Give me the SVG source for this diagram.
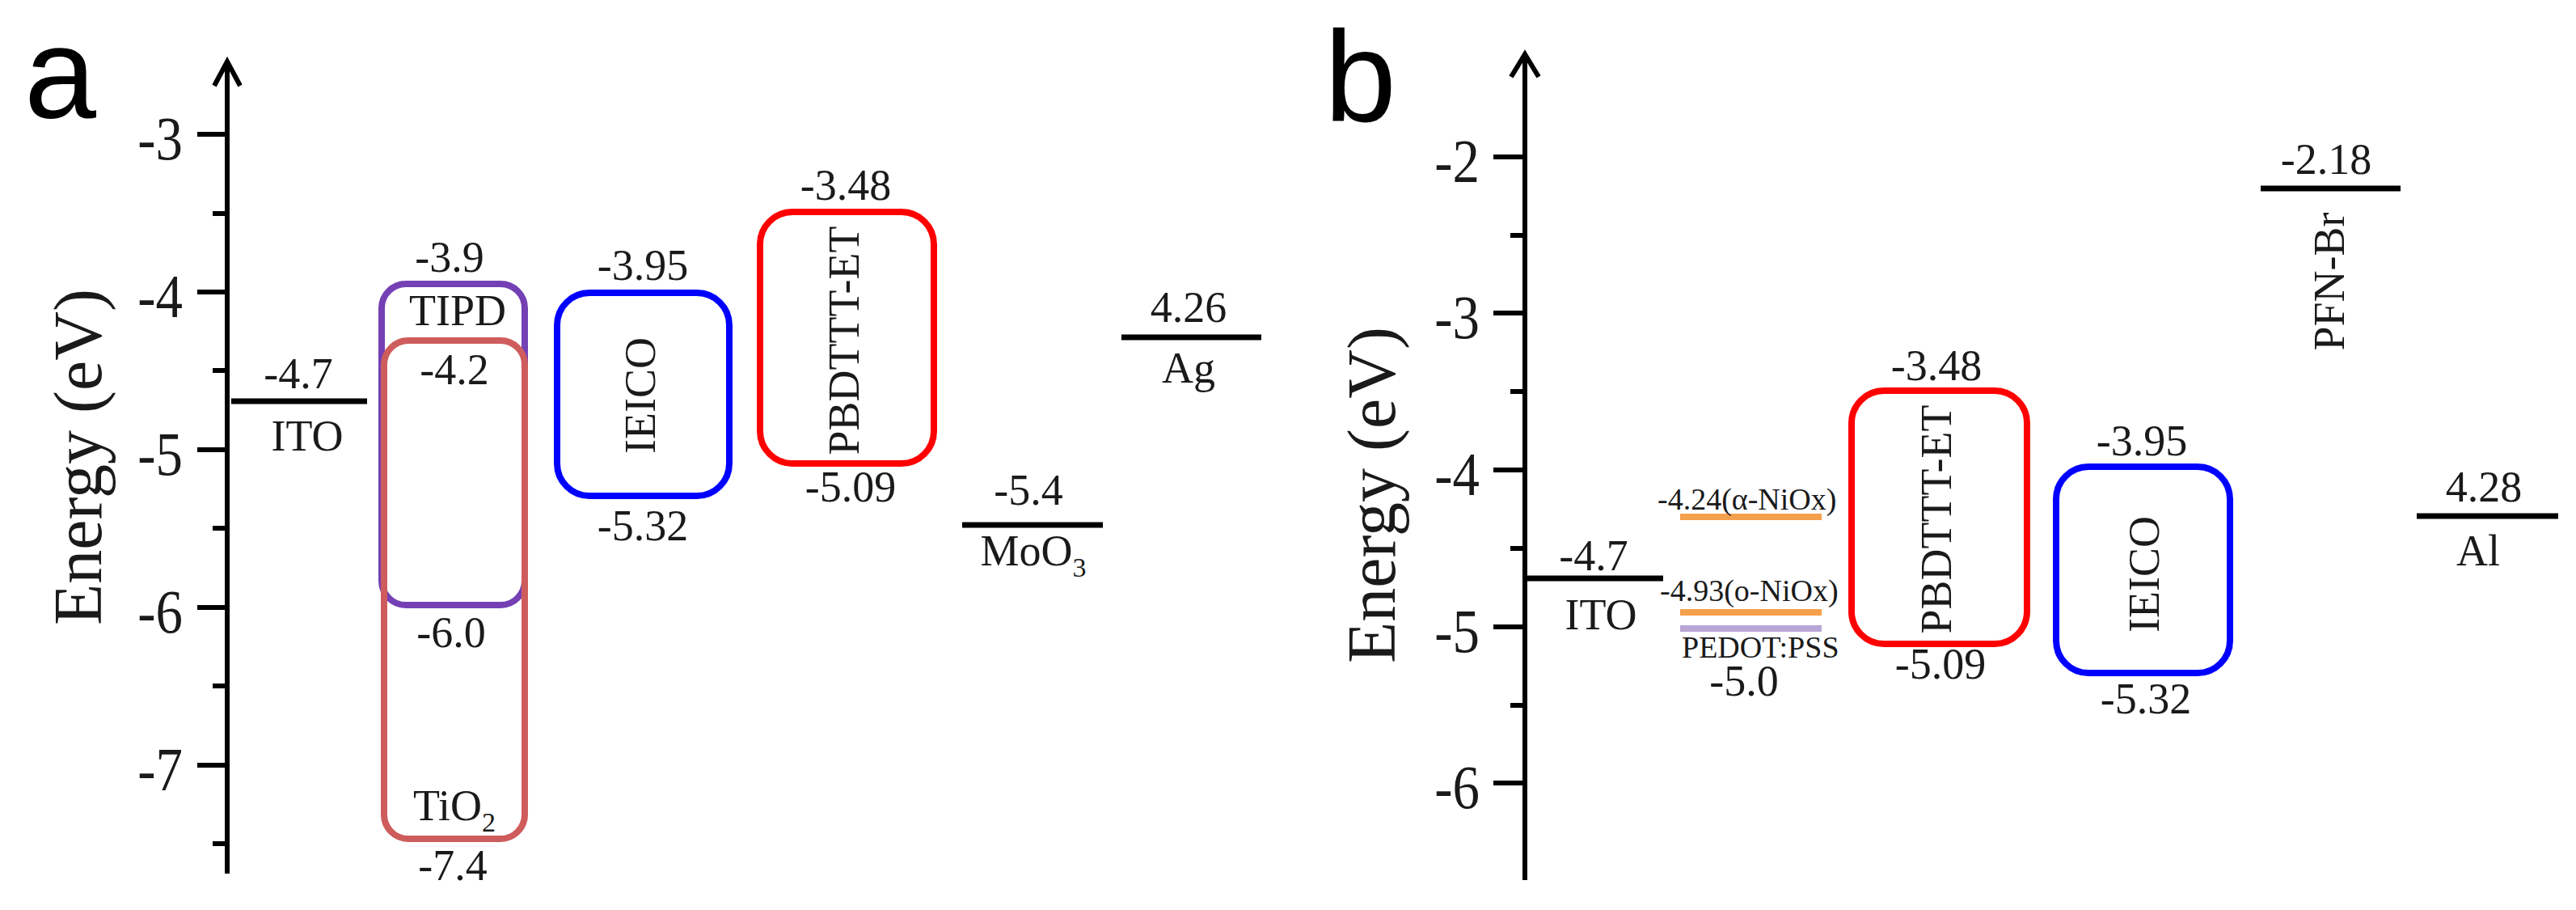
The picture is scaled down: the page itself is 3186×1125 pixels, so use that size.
<svg xmlns="http://www.w3.org/2000/svg" width="3186" height="1125" viewBox="0 0 3186 1125">
<style>
text{font-family:"Liberation Serif","Times New Roman",serif;fill:#1a1a1a}
.big{font-family:"Liberation Sans",Arial,sans-serif;font-size:160px;fill:#000}
.tick{font-size:76px;text-anchor:end}
.ttl{font-size:84px;text-anchor:middle}
.v{font-size:54px;text-anchor:middle}
.s{font-size:38px}
.ax{stroke:#000;stroke-width:6;fill:none}
.lv{stroke:#000;stroke-width:7}
.box{fill:none;stroke-width:8}
</style>
<rect width="3186" height="1125" fill="#fff"/>
<!-- panel a axis -->
<g id="axis-a">
<text class="big" x="30" y="145">a</text>
<line class="ax" x1="281" y1="75" x2="281" y2="1080"/>
<polyline class="ax" points="265,106 281,76 297,106"/>
<g class="ax">
<line x1="244" y1="166" x2="281" y2="166"/><line x1="263" y1="264" x2="281" y2="264"/>
<line x1="244" y1="361" x2="281" y2="361"/><line x1="263" y1="458" x2="281" y2="458"/>
<line x1="244" y1="556" x2="281" y2="556"/><line x1="263" y1="653" x2="281" y2="653"/>
<line x1="244" y1="751" x2="281" y2="751"/><line x1="263" y1="848" x2="281" y2="848"/>
<line x1="244" y1="946" x2="281" y2="946"/><line x1="263" y1="1043" x2="281" y2="1043"/>
</g>
<text class="tick" transform="translate(226,197) scale(0.88,1)">-3</text>
<text class="tick" transform="translate(226,392) scale(0.88,1)">-4</text>
<text class="tick" transform="translate(226,587) scale(0.88,1)">-5</text>
<text class="tick" transform="translate(226,782) scale(0.88,1)">-6</text>
<text class="tick" transform="translate(226,977) scale(0.88,1)">-7</text>
<text class="ttl" transform="translate(125,565) rotate(-90)">Energy (eV)</text>
</g>
<g id="ito-a">
<line class="lv" x1="286" y1="496" x2="454" y2="496"/>
<text class="v" x="369" y="480">-4.7</text>
<text class="v" x="380" y="557">ITO</text>
</g>
<g id="tipd">
<rect class="box" x="472" y="351" width="177" height="397" rx="30" stroke="#7440b4"/>
<text class="v" x="556" y="336">-3.9</text>
<text class="v" x="566" y="402">TIPD</text>
<text class="v" x="558" y="800">-6.0</text>
</g>
<g id="tio2">
<rect class="box" x="475" y="421" width="174" height="616" rx="30" stroke="#cf5c5c"/>
<text class="v" x="562" y="475">-4.2</text>
<text class="v" x="562" y="1014">TiO<tspan font-size="34" dy="14">2</tspan></text>
<text class="v" x="560" y="1088">-7.4</text>
</g>
<g id="ieico-a">
<rect class="box" x="689" y="362" width="213" height="251" rx="40" stroke="#0000ff"/>
<text class="v" x="795" y="346">-3.95</text>
<text class="v" transform="translate(810,489) rotate(-90)">IEICO</text>
<text class="v" x="795" y="668">-5.32</text>
</g>
<g id="pbdttt-a">
<rect class="box" x="940" y="262" width="215" height="311" rx="40" stroke="#ff0000"/>
<text class="v" x="1046" y="247">-3.48</text>
<text class="v" transform="translate(1062,421) rotate(-90)">PBDTTT-ET</text>
<text class="v" x="1052" y="620">-5.09</text>
</g>
<g id="moo3">
<line class="lv" x1="1190" y1="649" x2="1364" y2="649"/>
<text class="v" x="1272" y="624">-5.4</text>
<text class="v" x="1278" y="699">MoO<tspan font-size="34" dy="14">3</tspan></text>
</g>
<g id="ag">
<line class="lv" x1="1387" y1="417" x2="1560" y2="417"/>
<text class="v" x="1470" y="398">4.26</text>
<text class="v" x="1470" y="473">Ag</text>
</g>
<!-- panel b -->
<g id="axis-b">
<text class="big" x="1638" y="150">b</text>
<line class="ax" x1="1886" y1="67" x2="1886" y2="1088"/>
<polyline class="ax" points="1869,95 1886,67 1903,95"/>
<g class="ax">
<line x1="1847" y1="194" x2="1886" y2="194"/><line x1="1868" y1="291" x2="1886" y2="291"/>
<line x1="1847" y1="387" x2="1886" y2="387"/><line x1="1868" y1="484" x2="1886" y2="484"/>
<line x1="1847" y1="581" x2="1886" y2="581"/><line x1="1868" y1="678" x2="1886" y2="678"/>
<line x1="1847" y1="775" x2="1886" y2="775"/><line x1="1868" y1="872" x2="1886" y2="872"/>
<line x1="1847" y1="968" x2="1886" y2="968"/>
</g>
<text class="tick" transform="translate(1830,225) scale(0.88,1)">-2</text>
<text class="tick" transform="translate(1830,418) scale(0.88,1)">-3</text>
<text class="tick" transform="translate(1830,612) scale(0.88,1)">-4</text>
<text class="tick" transform="translate(1830,806) scale(0.88,1)">-5</text>
<text class="tick" transform="translate(1830,999) scale(0.88,1)">-6</text>
<text class="ttl" transform="translate(1725,612) rotate(-90)">Energy (eV)</text>
</g>
<g id="ito-b">
<line class="lv" x1="1888" y1="715" x2="2057" y2="715"/>
<text class="v" x="1971" y="705">-4.7</text>
<text class="v" x="1980" y="778">ITO</text>
</g>
<g id="a-niox">
<line x1="2078" y1="639" x2="2253" y2="639" stroke="#f5a04c" stroke-width="8"/>
<text class="s" x="2050" y="630">-4.24(α-NiOx)</text>
</g>
<g id="o-niox">
<line x1="2078" y1="757" x2="2253" y2="757" stroke="#f5a04c" stroke-width="8"/>
<text class="s" x="2053" y="743">-4.93(o-NiOx)</text>
</g>
<g id="pedot">
<line x1="2078" y1="777" x2="2253" y2="777" stroke="#b8a6d6" stroke-width="8"/>
<text class="s" x="2080" y="813" font-size="35">PEDOT:PSS</text>
<text class="v" x="2157" y="860">-5.0</text>
</g>
<g id="pbdttt-b">
<rect class="box" x="2290" y="483" width="217" height="313" rx="40" stroke="#ff0000"/>
<text class="v" x="2395" y="470">-3.48</text>
<text class="v" transform="translate(2413,642) rotate(-90)">PBDTTT-ET</text>
<text class="v" x="2400" y="839">-5.09</text>
</g>
<g id="ieico-b">
<rect class="box" x="2543" y="577" width="215" height="255" rx="40" stroke="#0000ff"/>
<text class="v" x="2649" y="563">-3.95</text>
<text class="v" transform="translate(2670,710) rotate(-90)">IEICO</text>
<text class="v" x="2654" y="882">-5.32</text>
</g>
<g id="pfn-br">
<line class="lv" x1="2796" y1="233" x2="2969" y2="233"/>
<text class="v" x="2877" y="215">-2.18</text>
<text class="v" transform="translate(2899,348) rotate(-90)">PFN-Br</text>
</g>
<g id="al">
<line class="lv" x1="2989" y1="638" x2="3164" y2="638"/>
<text class="v" x="3072" y="620">4.28</text>
<text class="v" x="3065" y="699">Al</text>
</g>
<g id="connectors"></g>
</svg>
